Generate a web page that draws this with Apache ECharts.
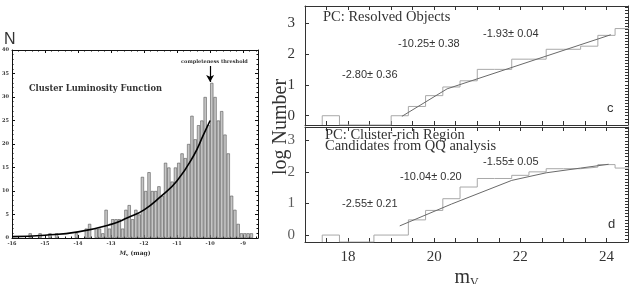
<!DOCTYPE html>
<html><head><meta charset="utf-8">
<script src="https://cdn.jsdelivr.net/npm/echarts@6/dist/echarts.min.js"></script>
<style>html,body{margin:0;padding:0;background:#fff}#c{width:632px;height:284px}</style>
</head><body><div id="c"></div>
<script>
// ---- Left panel: cluster luminosity function (M_V, 0.1 mag bins) ----
const lfBinCenters = [-15.45,-15.15,-14.85,-14.65,-14.05,
  -13.75,-13.65,-13.45,-13.35,-13.25,-13.15,-13.05,-12.95,-12.85,-12.75,-12.65,-12.55,-12.45,-12.35,-12.25,-12.15,
  -12.05,-11.95,-11.85,-11.75,-11.65,-11.55,-11.45,-11.35,-11.25,-11.15,-11.05,-10.95,-10.85,-10.75,-10.65,-10.55,
  -10.45,-10.35,-10.25,-10.15,-10.05,-9.95,-9.85,-9.75,-9.65,-9.55,-9.45,-9.35,-9.25,-9.15,-9.05,-8.95,-8.85,-8.75];
const lfCounts = [1,1,1,1,1,
  2,3,2,2,1,6,2,4,4,4,2,6,7,4,6,5,
  13,10,14,10,10,11,9,16,15,12,15,16,18,17,20,26,
  21,24,25,30,24,33,30,25,27,22,18,9,6,3,1,1,1,1];
const lfCurveMag = [-16,-15,-14,-13,-12.5,-12,-11.5,-11,-10.5,-10.2,-10.0];
const lfCurveN   = [0.3,0.6,1.3,2.9,4.3,6.0,8.8,12.2,17.5,22,25];
const lfThreshold = -10.0;
const lfArrowFromTo = [36.6, 33.2];

// ---- Panel c: PC resolved objects (0.4 mag bins, log N) ----
const binWidth = 0.4;
const cBinLo = [17.4,19.0,19.4,19.8,20.2,20.6,21.0,21.4,21.8,22.2,22.6,23.0,23.4,23.8,24.2];
const cLogN  = [0,0,0.3,0.65,0.93,1.13,1.5,1.5,1.83,1.83,2.15,2.15,2.25,2.6,2.82];
const cFitMag = [19.25,20.3,24.1];
const cFitLog = [-0.02,0.87,2.62];

// ---- Panel d: PC cluster-rich region, QQ candidates ----
const dBinLo = [17.4,18.6,19.0,19.4,19.8,20.2,20.6,21.0,21.4,21.8,22.2,22.6,23.0,23.4,23.8,24.2];
const dLogN  = [0,0,0,0.48,0.78,1.15,1.52,1.79,1.79,1.89,2.0,2.1,2.1,2.15,2.23,2.12];
const dFitMag = [19.2,20.4,21.8,22.6,23.4,24.05];
const dFitLog = [0.29,0.98,1.73,1.97,2.12,2.24];

const xTickLabelsR = [18,20,22,24];
const yTickLabelsR = [0,1,2,3];
const xMinR = 17, xMaxR = 24.5;
const cYMin = -0.3, cYMax = 3.55, dYMin = -0.22, dYMax = 3.42;

function stepData(lo, v, w, base) {
  const pts = [];
  for (let i = 0; i < lo.length; i++) {
    if (i === 0) pts.push([lo[0], base]);
    else {
      const prevHi = lo[i-1] + w;
      if (Math.abs(lo[i] - prevHi) > 1e-6) pts.push([prevHi, base]);
    }
    pts.push([lo[i], v[i]]);
  }
  const k = lo.length - 1;
  pts.push([lo[k] + w, v[k]]);
  return pts;
}
const zip = (a, b) => a.map((x, i) => [x, b[i]]);

const chart = echarts.init(document.getElementById('c'), null, {renderer: 'canvas'});
const blk = '#111', ax = '#333';
const serif = 'Liberation Serif';

function leftX(pos, show) {
  return {gridIndex:0, type:'value', position:pos, min:-16, max:-8.55, interval:1,
    axisLine:{show:true, onZero:false, lineStyle:{color:blk, width:1}},
    axisTick:{show:true, inside:true, length:3, lineStyle:{color:blk}},
    minorTick:{show:true, splitNumber:5, length:1.5, lineStyle:{color:blk}},
    splitLine:{show:false}, minorSplitLine:{show:false},
    axisLabel:{show:show, fontSize:5, fontWeight:'bold', fontFamily:'DejaVu Serif', color:'#333', margin:3,
      formatter: v => Number.isInteger(v) ? String(v) : ''},
    name: show ? '{i|M}{s|v} (mag)' : '', nameLocation:'middle', nameGap:12,
    nameTextStyle:{fontSize:6, fontFamily:'DejaVu Serif', fontWeight:'bold', color:'#333',
      rich:{i:{fontSize:6, fontStyle:'italic', fontWeight:'bold', fontFamily:'DejaVu Serif', color:'#333'},
            s:{fontSize:4, fontFamily:'DejaVu Serif', color:'#333', verticalAlign:'bottom', padding:[3,0,0,0]}}}
  };
}
function leftY(pos, show) {
  return {gridIndex:0, type:'value', position:pos, min:0, max:40, interval:5,
    axisLine:{show:true, lineStyle:{color:blk, width:1}},
    axisTick:{show:true, inside:true, length:3, lineStyle:{color:blk}},
    minorTick:{show:true, splitNumber:5, length:1.5, lineStyle:{color:blk}},
    splitLine:{show:false}, minorSplitLine:{show:false},
    axisLabel:{show:show, fontSize:5, fontWeight:'bold', fontFamily:'DejaVu Serif', color:'#333', margin:3}
  };
}
function rightX(gi, pos, show, withName) {
  return {gridIndex:gi, type:'value', position:pos, min:xMinR, max:xMaxR, interval:0.5,
    axisLine:{show:true, onZero:false, lineStyle:{color:ax, width:1}},
    axisTick:{show:true, inside:true, length:4, lineStyle:{color:ax}},
    splitLine:{show:false},
    axisLabel:{show:show, fontSize:15, fontFamily:serif, color:'#333', margin:8,
      customValues: xTickLabelsR},
    name: withName ? '{m|m}{v|V}' : '', nameLocation:'middle', nameGap:24.5,
    nameTextStyle:{rich:{m:{fontSize:20, fontFamily:serif, color:'#333'},
      v:{fontSize:12, fontFamily:serif, color:'#333', padding:[10,0,0,0]}}}
  };
}
function rightYLeft(gi, mn, mx, showLabel) {
  return {gridIndex:gi, type:'value', position:'left', min:mn, max:mx,
    axisLine:{show:true, onZero:false, lineStyle:{color:ax, width:1}},
    axisTick:{show:true, inside:true, length:4, lineStyle:{color:ax}, customValues: yTickLabelsR},
    splitLine:{show:false},
    axisLabel:{show:showLabel, fontSize:15, fontFamily:serif, color:'#333', margin:10,
      customValues: yTickLabelsR, showMinLabel:true, showMaxLabel:true}
  };
}
function rightYRight(gi, mn, mx) {
  return {gridIndex:gi, type:'value', position:'right', min:mn, max:mx, interval:0.1,
    axisLine:{show:true, onZero:false, lineStyle:{color:ax, width:1}},
    axisTick:{show:true, inside:true, length:3, lineStyle:{color:ax}},
    splitLine:{show:false},
    axisLabel:{show:false}
  };
}

const txt = (x, y, t, font, extra) => Object.assign({type:'text', x:x, y:y,
  style:{text:t, font:font, fill:'#333', textVerticalAlign:'middle'}}, extra || {});

const option = {
  animation:false,
  backgroundColor:'#fff',
  grid:[
    {left:12, top:50, width:246, height:188, containLabel:false, outerBoundsMode:'none'},
    {left:305, top:6, width:323, height:119, containLabel:false, outerBoundsMode:'none'},
    {left:305, top:127, width:323, height:115, containLabel:false, outerBoundsMode:'none'}
  ],
  xAxis:[ leftX('bottom', true), leftX('top', false),
          rightX(1,'bottom',false,false), rightX(1,'top',false,false),
          rightX(2,'bottom',true,true), rightX(2,'top',false,false) ],
  yAxis:[ leftY('left', true), leftY('right', false),
          rightYLeft(1,cYMin,cYMax,true), rightYRight(1,cYMin,cYMax),
          rightYLeft(2,dYMin,dYMax,false), rightYRight(2,dYMin,dYMax) ],
  series:[
    {type:'bar', xAxisIndex:0, yAxisIndex:0, barWidth:3.2, data: zip(lfBinCenters, lfCounts),
      itemStyle:{color:'#c6c6c6', borderColor:'#555', borderWidth:0.6}},
    {type:'line', xAxisIndex:0, yAxisIndex:0, smooth:true, symbol:'none', data: zip(lfCurveMag, lfCurveN),
      lineStyle:{color:'#000', width:1.6}, z:5,
      markLine:{silent:true, symbol:['none','arrow'], symbolSize:[6,7], label:{show:false},
        lineStyle:{color:'#000', width:1.2, type:'solid'},
        data:[[{coord:[lfThreshold, lfArrowFromTo[0]]},{coord:[lfThreshold, lfArrowFromTo[1]]}]]}},
    {type:'line', xAxisIndex:2, yAxisIndex:2, step:'end', symbol:'none', clip:true,
      data: stepData(cBinLo, cLogN, binWidth, cYMin), lineStyle:{color:'#a8a8a8', width:1}},
    {type:'line', xAxisIndex:2, yAxisIndex:2, symbol:'none', clip:true,
      data: zip(cFitMag, cFitLog), lineStyle:{color:'#6a6a6a', width:1}},
    {type:'line', xAxisIndex:4, yAxisIndex:4, step:'end', symbol:'none', clip:true,
      data: stepData(dBinLo, dLogN, binWidth, dYMin), lineStyle:{color:'#a8a8a8', width:1}},
    {type:'line', xAxisIndex:4, yAxisIndex:4, symbol:'none', clip:true,
      data: zip(dFitMag, dFitLog), lineStyle:{color:'#6a6a6a', width:1}},
    // tick labels of panel d's y axis, placed through the axis scale
    {type:'scatter', xAxisIndex:4, yAxisIndex:4, clip:false, silent:true, symbolSize:0,
      data: yTickLabelsR.map(v => [xMinR, v]),
      label:{show:true, position:'left', distance:10, formatter: p => String(p.value[1]),
        fontSize:15, fontFamily:serif, color:'#333'},
      labelLayout:{hideOverlap:false}}
  ],
  graphic:[
    txt(4, 40, 'N', '16px "Liberation Sans"'),
    txt(29, 89, 'Cluster Luminosity Function', 'bold 8.3px "DejaVu Serif"'),
    txt(181, 62, 'completeness threshold', 'bold 5px "DejaVu Serif"'),
    txt(323, 17, 'PC: Resolved Objects', '14.5px "Liberation Serif"'),
    txt(398, 44, '-10.25\u00b1 0.38', '11px "Liberation Sans"'),
    txt(483, 34, '-1.93\u00b1 0.04', '11px "Liberation Sans"'),
    txt(342, 75, '-2.80\u00b1 0.36', '11px "Liberation Sans"'),
    txt(607, 108, 'c', '13px "Liberation Sans"'),
    txt(325, 135, 'PC: Cluster-rich Region', '14.5px "Liberation Serif"'),
    txt(325, 146, 'Candidates from QQ analysis', '14.5px "Liberation Serif"'),
    txt(400, 177, '-10.04\u00b1 0.20', '11px "Liberation Sans"'),
    txt(483, 162, '-1.55\u00b1 0.05', '11px "Liberation Sans"'),
    txt(342, 204, '-2.55\u00b1 0.21', '11px "Liberation Sans"'),
    txt(608, 224, 'd', '13px "Liberation Sans"'),
    {type:'text', x:281, y:127, rotation:Math.PI/2,
      style:{text:'log Number', font:'20px "Liberation Serif"', fill:'#333', textAlign:'center', textVerticalAlign:'middle'}}
  ]
};
chart.setOption(option);
</script></body></html>
